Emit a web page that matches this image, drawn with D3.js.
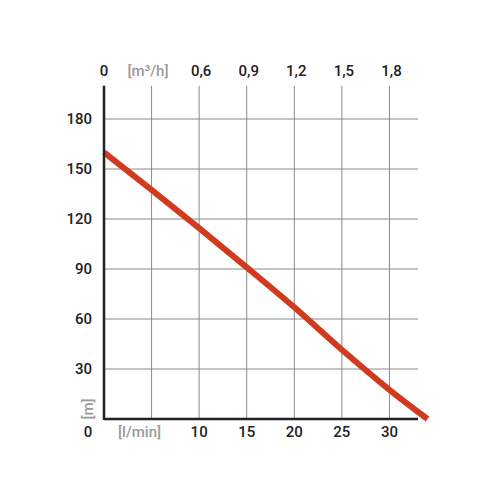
<!DOCTYPE html>
<html>
<head>
<meta charset="utf-8">
<script src="https://cdn.jsdelivr.net/npm/d3@7"></script>
<style>
  body { margin: 0; background: #fff; }
  text { font-family: Roboto, "DejaVu Sans", sans-serif; font-weight: 500; font-size: 15px; }
</style>
</head>
<body>
<svg id="chart"></svg>
<script>
// pump curve: flow [l/min] vs head [m]
const flow = [0, 5, 10, 15, 20, 25, 30, 34];
const head = [160, 137.5, 114.5, 91, 67, 41.5, 17.5, 0];

const xTicks = [5, 10, 15, 20, 25, 30];
const yTicks = [30, 60, 90, 120, 150, 180];
const bottomLabels = ["10", "15", "20", "25", "30"];
const topLabels = ["0,6", "0,9", "1,2", "1,5", "1,8"];

const width = 500, height = 500;
const svg = d3.select("#chart").attr("width", width).attr("height", height);

const x = d3.scaleLinear().domain([0, 33]).range([104, 418]);
const y = d3.scaleLinear().domain([0, 200]).range([419, 85.7]);

// grid
svg.append("g").selectAll("line.v")
  .data(xTicks)
  .enter().append("line")
  .attr("x1", d => x(d)).attr("x2", d => x(d))
  .attr("y1", y(200)).attr("y2", y(0))
  .attr("stroke", "#8a8a8a").attr("stroke-width", 1);

svg.append("g").selectAll("line.h")
  .data(yTicks)
  .enter().append("line")
  .attr("x1", x(0)).attr("x2", x(33))
  .attr("y1", d => y(d)).attr("y2", d => y(d))
  .attr("stroke", "#8a8a8a").attr("stroke-width", 1);

// curve
const line = d3.line()
  .x((d, i) => x(flow[i]))
  .y(d => y(d))
  .curve(d3.curveCatmullRom);

svg.append("path")
  .datum(head)
  .attr("d", line)
  .attr("fill", "none")
  .attr("stroke", "#d03a1f")
  .attr("stroke-width", 6);

// axes
svg.append("line")
  .attr("x1", x(0)).attr("x2", x(0))
  .attr("y1", y(200)).attr("y2", y(0) + 1)
  .attr("stroke", "#222").attr("stroke-width", 2.5);
svg.append("line")
  .attr("x1", x(0)).attr("x2", x(33))
  .attr("y1", y(0)).attr("y2", y(0))
  .attr("stroke", "#222").attr("stroke-width", 2.5);

// left ticks
svg.append("g").selectAll("text")
  .data(yTicks)
  .enter().append("text")
  .attr("x", 92)
  .attr("y", d => y(d))
  .attr("dy", "0.35em")
  .attr("text-anchor", "end")
  .attr("fill", "#222")
  .text(d => d);

// bottom labels
const bottomG = svg.append("g");
bottomG.selectAll("text")
  .data(bottomLabels)
  .enter().append("text")
  .attr("x", (d, i) => x(xTicks[i + 1]))
  .attr("y", 437)
  .attr("text-anchor", "middle")
  .attr("fill", "#222")
  .text(d => d);
bottomG.append("text").attr("x", 88).attr("y", 437)
  .attr("text-anchor", "middle").attr("fill", "#222").text("0");
bottomG.append("text").attr("x", x(xTicks[0]) - 12).attr("y", 437)
  .attr("text-anchor", "middle").attr("fill", "#9a9a9a").attr("font-weight", 400).text("[l/min]");

// top labels
const topG = svg.append("g");
topG.selectAll("text")
  .data(topLabels)
  .enter().append("text")
  .attr("x", (d, i) => x(xTicks[i + 1]) + 2)
  .attr("y", 76)
  .attr("text-anchor", "middle")
  .attr("fill", "#222")
  .text(d => d);
topG.append("text").attr("x", x(0)).attr("y", 76)
  .attr("text-anchor", "middle").attr("fill", "#222").text("0");
topG.append("text").attr("x", 148).attr("y", 76)
  .attr("text-anchor", "middle").attr("fill", "#9a9a9a").attr("font-weight", 400)
  .text("[m³/h]");

// y unit
svg.append("text")
  .attr("transform", "translate(93,409) rotate(-90)")
  .attr("text-anchor", "middle")
  .attr("fill", "#9a9a9a").attr("font-weight", 400)
  .text("[m]");
</script>
</body>
</html>
